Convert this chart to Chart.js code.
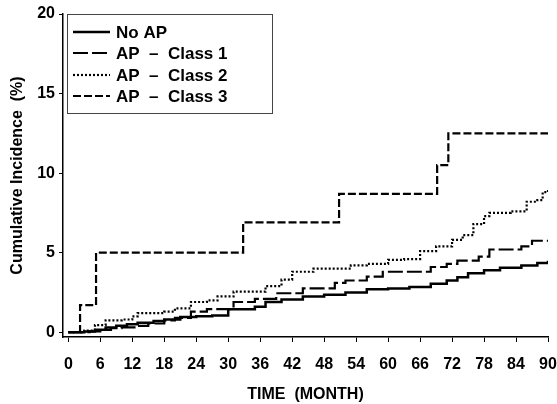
<!DOCTYPE html>
<html lang="en">
  <head>
    <meta charset="UTF-8">
    <title>Cumulative Incidence</title>
    <script src="https://cdn.jsdelivr.net/npm/chart.js"></script>
    <style>
      html, body { margin: 0; padding: 0; background: #fff; }
      #wrap { width: 557px; height: 404px; }
    </style>
  </head>

  <body>
    <div id="wrap"><canvas id="Chart"></canvas></div>
    <script>
      // values (month, cumulative %)
      var noApMonths = [0, 3, 5, 7, 9, 11, 13, 16, 18, 21, 24, 27, 30, 35, 37, 40, 44, 48, 52, 56, 60, 64, 68, 71, 73, 75, 78, 81, 85, 88, 90];
      var noApValues = [0, 0.05, 0.15, 0.3, 0.4, 0.5, 0.6, 0.7, 0.8, 0.95, 1.0, 1.05, 1.45, 1.6, 1.9, 2.05, 2.25, 2.35, 2.5, 2.7, 2.75, 2.85, 3.05, 3.25, 3.45, 3.7, 3.9, 4.05, 4.2, 4.35, 4.5];

      var class1Months = [0, 4, 6, 8, 10, 13, 15, 18, 20, 23, 26, 31, 35, 39, 44, 50, 52, 56, 59, 68, 71, 73, 77, 79, 85, 87, 90];
      var class1Values = [0, 0.05, 0.15, 0.25, 0.3, 0.4, 0.55, 0.75, 0.9, 1.3, 1.45, 1.9, 2.1, 2.45, 2.75, 3.1, 3.25, 3.5, 3.8, 4.1, 4.3, 4.5, 4.75, 5.2, 5.4, 5.75, 5.75];

      var class2Months = [0, 3, 5, 7, 10, 12, 13, 18, 20, 23, 26, 28, 31, 37, 40, 42, 46, 53, 56, 60, 63, 66, 69, 72, 74, 76, 78, 79, 83, 86, 88, 89, 90];
      var class2Values = [0, 0.1, 0.45, 0.75, 0.8, 1.0, 1.2, 1.3, 1.5, 1.9, 2.0, 2.25, 2.55, 2.9, 3.3, 3.8, 4.0, 4.2, 4.3, 4.55, 4.6, 5.1, 5.4, 5.8, 6.1, 6.8, 7.3, 7.5, 7.6, 8.2, 8.3, 8.8, 9.0];

      var class3Months = [0, 2.2, 5.2, 32.8, 50.8, 69.2, 71.3, 90];
      var class3Values = [0, 1.7, 5.0, 6.9, 8.7, 10.5, 12.5, 12.5];

      var seriesLabels = ["No AP", "AP  \u2013  Class 1", "AP  \u2013  Class 2", "AP  \u2013  Class 3"];
      var xTicks = [0, 6, 12, 18, 24, 30, 36, 42, 48, 54, 60, 66, 72, 78, 84, 90];
      var yTicks = [0, 5, 10, 15, 20];

      function pts(xs, ys) {
        return xs.map(function (x, i) { return { x: x, y: ys[i] }; });
      }

      var FONT = "'Liberation Sans', Arial, sans-serif";

      // legend in a box inside the plot, top left
      var boxLegend = {
        id: 'boxLegend',
        afterDraw: function (chart) {
          var ctx = chart.ctx;
          ctx.save();
          ctx.strokeStyle = '#444';
          ctx.lineWidth = 1;
          ctx.setLineDash([]);
          ctx.strokeRect(67.5, 14.5, 205, 99);
          ctx.font = 'bold 17px ' + FONT;
          ctx.textBaseline = 'middle';
          ctx.fillStyle = '#000';
          var rows = [32, 53, 75, 96];
          chart.data.datasets.forEach(function (ds, i) {
            var y = rows[i];
            ctx.beginPath();
            ctx.strokeStyle = '#000';
            ctx.lineWidth = ds.borderWidth;
            ctx.setLineDash(ds.borderDash || []);
            ctx.moveTo(73, y);
            ctx.lineTo(110, y);
            ctx.stroke();
            ctx.fillText(ds.label, 116, y + 1);
          });
          ctx.restore();
        }
      };

      new Chart("Chart", {
        type: "line",
        data: {
          datasets: [
            { label: seriesLabels[0], data: pts(noApMonths, noApValues), borderWidth: 2.5, borderDash: [] },
            { label: seriesLabels[1], data: pts(class1Months, class1Values), borderWidth: 2.2, borderDash: [15, 4] },
            { label: seriesLabels[2], data: pts(class2Months, class2Values), borderWidth: 2.2, borderDash: [2, 2] },
            { label: seriesLabels[3], data: pts(class3Months, class3Values), borderWidth: 2.2, borderDash: [8, 3] }
          ]
        },
        options: {
          responsive: true,
          maintainAspectRatio: false,
          animation: false,
          devicePixelRatio: 1,
          layout: { padding: { top: 14, right: 9, left: 0, bottom: 0 } },
          elements: {
            line: { borderColor: '#000', stepped: true, tension: 0, fill: false },
            point: { radius: 0 }
          },
          plugins: {
            legend: { display: false },
            tooltip: { enabled: false }
          },
          scales: {
            x: {
              type: 'linear',
              min: -1,
              max: 90,
              afterBuildTicks: function (s) { s.ticks = xTicks.map(function (v) { return { value: v }; }); },
              afterFit: function (s) { s.height = 67; s.paddingLeft = 0; s.paddingRight = 0; },
              grid: { drawOnChartArea: false, drawTicks: true, tickLength: 5, color: '#000' },
              border: { display: true, color: '#000', width: 1.5 },
              ticks: { color: '#000', padding: 13, maxRotation: 0, autoSkip: false, font: { family: FONT, size: 16, weight: 'bold' } },
              title: { display: true, text: 'TIME  (MONTH)', color: '#000', padding: { top: 0, bottom: 0 }, font: { family: FONT, size: 16, weight: 'bold' } }
            },
            y: {
              min: -0.3,
              max: 20,
              afterBuildTicks: function (s) { s.ticks = yTicks.map(function (v) { return { value: v }; }); },
              afterFit: function (s) { s.width = 63; s.paddingTop = 0; s.paddingBottom = 0; },
              grid: { drawOnChartArea: false, drawTicks: true, tickLength: 4, color: '#000' },
              border: { display: true, color: '#000', width: 1.5 },
              ticks: { color: '#000', padding: 4, font: { family: FONT, size: 16, weight: 'bold' } },
              title: { display: true, text: 'Cumulative Incidence  (%)', color: '#000', padding: { top: 8, bottom: 0 }, font: { family: FONT, size: 16, weight: 'bold' } }
            }
          }
        },
        plugins: [boxLegend]
      });
    </script>
  </body>
</html>
